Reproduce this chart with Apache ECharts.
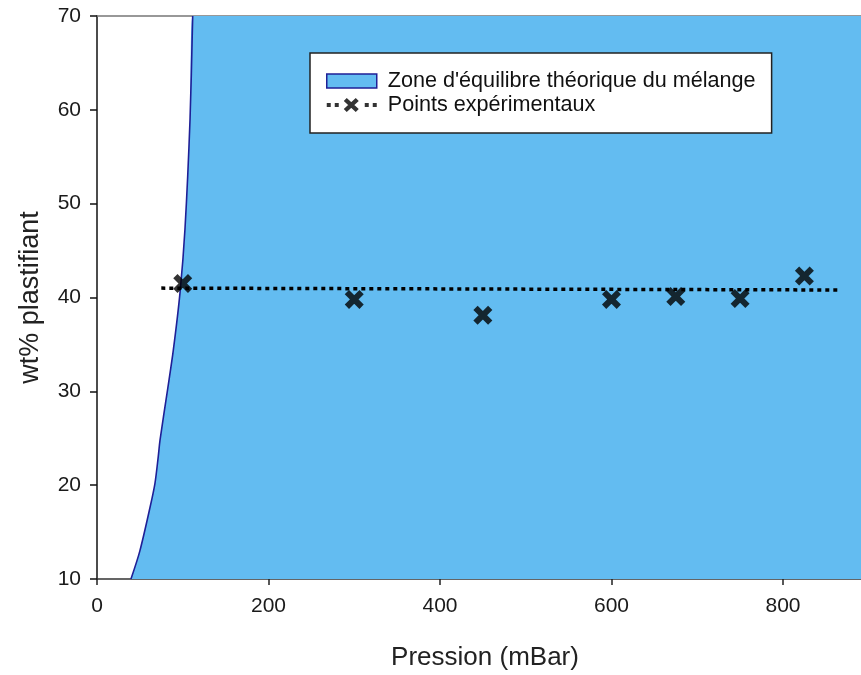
<!DOCTYPE html>
<html>
<head>
<meta charset="utf-8">
<script src="https://cdn.jsdelivr.net/npm/echarts@6/dist/echarts.min.js"></script>
<style>html,body{margin:0;padding:0;background:#fff;}#c{width:861px;height:675px;}</style>
</head>
<body>
<div id="c"></div>
<script>
// Boundary of the theoretical equilibrium zone: [pressure (mBar), wt% plasticizer]
var boundaryX = [39.6, 50, 62, 67.6, 71.5, 73.5, 82, 89, 96.8, 102.6, 108.5, 111.6];
var boundaryY = [10, 13, 17.7, 20.2, 23.1, 24.8, 30, 34.4, 40.5, 47.3, 59, 70];
// Experimental points
var pointsX = [100, 300, 450, 600, 675, 750, 825];
var pointsY = [41.5, 39.8, 38.1, 39.8, 40.1, 39.9, 42.3];
// Trend line (dotted)
var trendX = [75, 865];
var trendY = [41.0, 40.8];
// Axes
var xTicks = [0, 200, 400, 600, 800];
var xMin = 0, xMax = 891;
var yMin = 10, yMax = 70, yStep = 10;
var zoneName = "Zone d'équilibre théorique du mélange";
var pointsName = "Points expérimentaux";

function zip(a, b) { return a.map(function (v, i) { return [v, b[i]]; }); }
var curve = zip(boundaryX, boundaryY);
var zoneData = curve.concat([[xMax, yMax]]);

var X_PATH = 'path://M3.6,0 L16,12.4 L12.4,16 L0,3.6 Z M12.4,0 L16,3.6 L3.6,16 L0,12.4 Z';
var LEG_PATH = 'path://M0,5 h4 v4 h-4 Z M8,5 h4 v4 h-4 Z ' +
  'M20,0 L32,11 L29,14 L17,3 Z M29,0 L32,3 L20,14 L17,11 Z ' +
  'M38,5 h4 v4 h-4 Z M46,5 h4 v4 h-4 Z';

var FONT = 'Liberation Sans, Arial, sans-serif';
var chart = echarts.init(document.getElementById('c'), null, { renderer: 'canvas' });
chart.setOption({
  animation: false,
  backgroundColor: '#ffffff',
  grid: { left: 97, top: 16, right: 0, bottom: 96, containLabel: false, outerBoundsMode: 'none' },
  xAxis: [{
    type: 'value', min: xMin, max: xMax, position: 'bottom',
    name: 'Pression (mBar)', nameLocation: 'middle', nameGap: 66,
    nameTextStyle: { fontFamily: FONT, fontSize: 26, color: '#222', padding: [0, 0, 0, 12] },
    axisLine: { show: true, onZero: false, lineStyle: { color: '#333', width: 1.5 } },
    axisTick: { show: true, inside: false, length: 6, customValues: xTicks, lineStyle: { color: '#222', width: 1.5 } },
    axisLabel: { customValues: xTicks, margin: 17, fontFamily: FONT, fontSize: 21, color: '#1a1a1a' },
    splitLine: { show: false }
  }, {
    type: 'value', min: xMin, max: xMax, position: 'top',
    axisLine: { show: true, onZero: false, lineStyle: { color: '#777', width: 1.5 } },
    axisTick: { show: false }, axisLabel: { show: false }, splitLine: { show: false }
  }],
  yAxis: {
    type: 'value', min: yMin, max: yMax, interval: yStep,
    name: 'wt% plastifiant', nameLocation: 'middle', nameGap: 53,
    nameTextStyle: { fontFamily: FONT, fontSize: 27, color: '#222' },
    axisLine: { show: true, onZero: false, lineStyle: { color: '#111', width: 1.5 } },
    axisTick: { show: true, inside: false, length: 7, lineStyle: { color: '#111', width: 1.5 } },
    axisLabel: { margin: 16, fontFamily: FONT, fontSize: 21, color: '#1a1a1a' },
    splitLine: { show: false }
  },
  legend: {
    left: 310, top: 53, orient: 'vertical',
    padding: [17, 16, 17, 16], itemGap: 2,
    itemWidth: 50, itemHeight: 14,
    backgroundColor: '#fff', borderColor: '#222', borderWidth: 1.5, borderRadius: 0,
    textStyle: { fontFamily: FONT, fontSize: 21.6, color: '#111', padding: [0, 0, 0, 6] },
    data: [
      { name: zoneName, icon: 'rect', itemStyle: { color: '#63BCF1', borderColor: '#1f1f96', borderWidth: 1.5 } },
      { name: pointsName, icon: LEG_PATH, itemStyle: { color: '#000' } }
    ]
  },
  series: [
    {
      name: zoneName, type: 'line', data: zoneData, symbol: 'none', smooth: 0.3,
      lineStyle: { width: 0, color: '#63BCF1' }, itemStyle: { color: '#63BCF1' },
      areaStyle: { color: '#63BCF1', opacity: 1, origin: 'start' }, z: 1, silent: true
    },
    {
      name: 'boundary', type: 'line', data: curve, symbol: 'none', smooth: 0.3,
      lineStyle: { width: 1.6, color: '#1f1f96' }, z: 2, silent: true
    },
    {
      name: 'trend', type: 'line', data: zip(trendX, trendY), symbol: 'none',
      lineStyle: { width: 3.5, color: '#000', type: [4, 4], cap: 'butt' }, z: 3, silent: true
    },
    {
      name: pointsName, type: 'scatter', data: zip(pointsX, pointsY),
      symbol: X_PATH, symbolSize: 19, itemStyle: { color: '#000' }, z: 4
    }
  ]
});
</script>
</body>
</html>
